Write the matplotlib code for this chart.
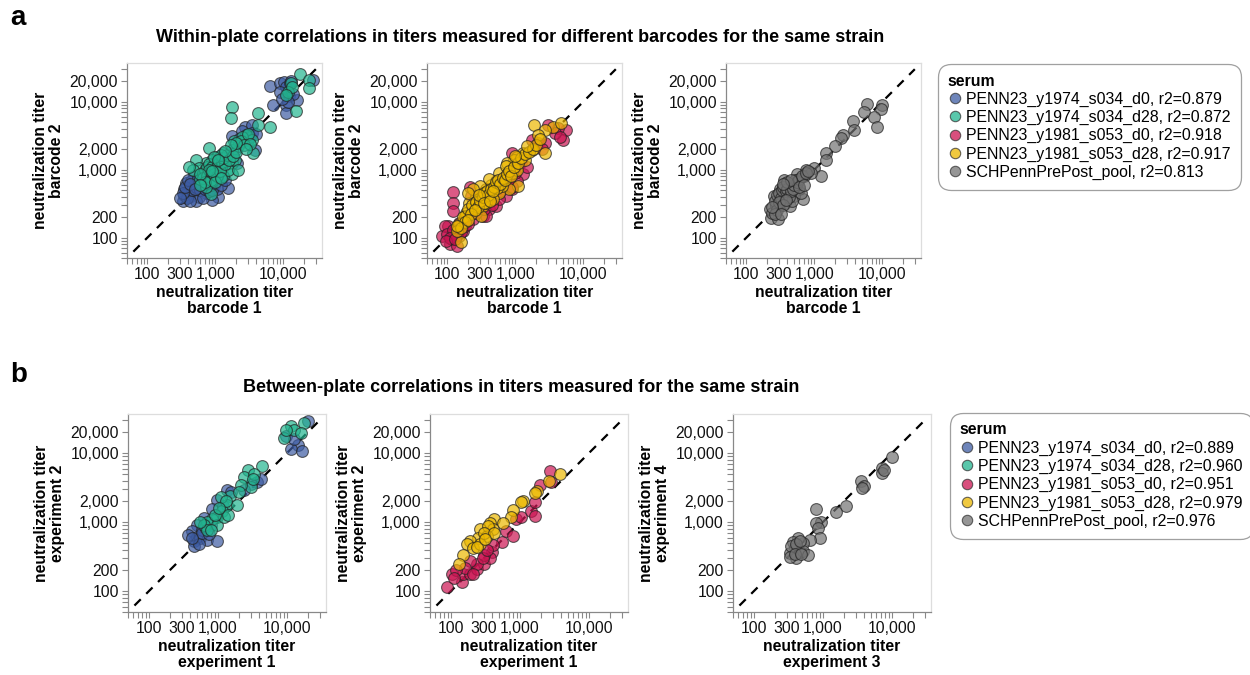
import matplotlib
matplotlib.use("Agg")
import matplotlib.pyplot as plt
from matplotlib.lines import Line2D
from matplotlib.ticker import FixedLocator, FixedFormatter, NullLocator

plt.rcParams['font.family'] = ['Liberation Sans', 'DejaVu Sans']

# ---------------------------------------------------------------------------
# data: (titer barcode/experiment A, titer barcode/experiment B) per serum
# ---------------------------------------------------------------------------
sera = ['PENN23_y1974_s034_d0', 'PENN23_y1974_s034_d28', 'PENN23_y1981_s053_d0',
        'PENN23_y1981_s053_d28', 'SCHPennPrePost_pool']
colors = ['#3d5ca3', '#22b58f', '#cc1452', '#ecb800', '#737373']
r2_within = [0.879, 0.872, 0.918, 0.917, 0.813]
r2_between = [0.889, 0.960, 0.951, 0.979, 0.976]

# panel a1 (barcode 1, barcode 2)
a_y1974_d0 = [(6400, 17000), (8900, 18500), (10300, 19500), (11000, 16500), (12500, 18500),
              (12000, 12000), (10800, 9000), (11100, 6700), (16000, 10500), (27000, 20500),
              (7000, 9000), (14000, 13000), (2700, 4200), (3400, 4500), (3500, 3400), (1750, 3100),
              (2300, 2450), (3000, 2750), (3800, 1950), (1950, 1950), (1550, 1400), (1300, 1250),
              (1100, 1100), (2050, 1250), (1550, 540), (1100, 400), (900, 360), (720, 450), (580, 400),
              (460, 570), (410, 400), (370, 640), (330, 340), (390, 480), (510, 340), (490, 800),
              (640, 800), (800, 640), (950, 570), (580, 670), (440, 670), (350, 510), (720, 1000),
              (1050, 510), (350, 420), (380, 380), (420, 350), (450, 500), (520, 560), (600, 500),
              (650, 380), (700, 520), (800, 480), (900, 500), (330, 450), (360, 560), (400, 700),
              (550, 750), (620, 620), (420, 620), (500, 520), (750, 650), (850, 600), (300, 380),
              (1200, 600), (1400, 700), (2500, 3700), (3200, 3000), (4000, 3300), (2200, 2800),
              (9000, 14000), (13000, 20000), (11500, 10000), (9500, 11000)]
a_y1974_d28 = [(17400, 25500), (24000, 21000), (24000, 15700), (15500, 7200), (12800, 18500),
               (11700, 14000), (13500, 16500), (11100, 12500), (1740, 8400), (1700, 5800), (4200, 6700),
               (4200, 4550), (6300, 4300), (2850, 3250), (3400, 2750), (2450, 3000), (1850, 2600),
               (2150, 2200), (3550, 1750), (1750, 1950), (800, 2100), (1300, 1750), (1050, 1550),
               (900, 1400), (720, 1250), (510, 1400), (570, 1070), (720, 900), (950, 1200), (1100, 1330),
               (1400, 1480), (1750, 1250), (1950, 1400), (1750, 850), (1050, 900), (800, 850), (600, 720),
               (900, 680), (1300, 800), (850, 430), (720, 560), (460, 1000), (410, 1100), (1550, 1000),
               (2150, 1000), (650, 900), (700, 1000), (750, 1100), (800, 1200), (850, 1000), (900, 1100),
               (1000, 1000), (1100, 1200), (1200, 1100), (650, 750), (750, 800), (850, 700), (950, 850),
               (1050, 800), (1150, 950), (1250, 1300), (1400, 1200), (1300, 1500), (1500, 1650),
               (1200, 1650), (950, 1550), (800, 1000), (700, 650), (600, 850), (1000, 650), (1200, 750),
               (1600, 1400), (1800, 1600), (2000, 1800), (2400, 2600), (2600, 2300), (2000, 2500),
               (3000, 3300), (3200, 2400), (2800, 2000), (1700, 2300), (1400, 1900), (1100, 1400),
               (900, 950), (600, 600)]

# panel a2
a_y1981_d0 = [(83, 105), (110, 80), (116, 95), (103, 148), (93, 148), (122, 465), (122, 318), (122, 245),
              (212, 560), (225, 410), (150, 105), (130, 130), (180, 185), (330, 210), (410, 260), (520, 290),
              (720, 410), (900, 510), (950, 1120), (1300, 850), (1200, 1280), (900, 1750), (1750, 2750),
              (2150, 2450), (5500, 3850), (5000, 2750), (4200, 4050), (3800, 3450), (2700, 2450), (300, 290),
              (240, 185), (370, 210), (580, 365), (150, 165), (98, 112), (136, 75), (170, 125), (260, 410),
              (640, 640), (1050, 670), (460, 510), (120, 130), (140, 110), (160, 120), (180, 150),
              (200, 160), (110, 100), (95, 90), (130, 95), (220, 230), (260, 230), (350, 260), (450, 300),
              (600, 480), (800, 700), (1000, 900), (1500, 1100), (2500, 2000), (4500, 3000), (3000, 4500),
              (900, 560)]
a_y1981_d28 = [(1850, 4550), (3550, 4300), (4700, 4900), (2700, 3850), (2150, 3250), (2700, 1750),
               (1750, 1950), (1300, 1750), (1050, 1550), (950, 1400), (760, 1250), (570, 900), (720, 800),
               (510, 670), (440, 600), (370, 510), (330, 450), (300, 385), (250, 360), (210, 325),
               (190, 230), (150, 160), (160, 85), (136, 125), (1100, 570), (800, 510), (580, 450),
               (410, 410), (330, 290), (260, 260), (370, 325), (460, 365), (640, 570), (900, 900),
               (720, 1120), (410, 720), (300, 570), (240, 510), (200, 450), (180, 210), (310, 210),
               (540, 540), (1050, 1000), (1400, 1400), (170, 200), (200, 260), (230, 300), (260, 330),
               (280, 280), (300, 350), (330, 400), (350, 450), (380, 480), (400, 420), (430, 520),
               (480, 560), (520, 650), (560, 700), (600, 620), (650, 750), (700, 700), (750, 850),
               (800, 950), (850, 800), (950, 1100), (1100, 1250), (1200, 1500), (1400, 1700), (1600, 1800),
               (1800, 2000), (2000, 2300), (2300, 2800), (1500, 2200), (1000, 1600), (220, 220), (250, 250),
               (290, 420), (340, 320), (420, 350), (460, 480), (180, 170), (160, 140), (140, 150), (200, 180)]

# panel a3
a_pool = [(5900, 9300), (9900, 8900), (9400, 7700), (5300, 7100), (7500, 6000), (8300, 4200), (3700, 5100),
          (3800, 3800), (2600, 3250), (2500, 2900), (2000, 2250), (1500, 1750), (1500, 1400), (1000, 1050),
          (740, 1000), (700, 800), (560, 850), (1250, 810), (900, 900), (670, 365), (590, 510), (460, 570),
          (370, 640), (420, 455), (360, 390), (300, 290), (230, 195), (290, 185), (250, 410), (225, 260),
          (240, 230), (310, 350), (370, 320), (500, 405), (640, 455), (440, 290), (270, 305), (460, 350),
          (540, 600), (420, 600), (310, 510), (360, 710), (260, 350), (280, 420), (300, 450), (320, 380),
          (330, 500), (350, 550), (380, 480), (400, 520), (420, 400), (450, 480), (480, 520), (500, 600),
          (520, 700), (550, 650), (600, 720), (650, 800), (750, 900), (800, 950), (280, 250), (300, 330),
          (340, 300), (380, 360), (260, 220), (240, 280), (400, 650), (450, 700), (350, 620), (600, 560),
          (700, 600), (320, 220)]

# panel b1 (experiment 1, experiment 2)
b_y1974_d0 = [(20000, 29600), (9660, 18000), (14300, 13200), (11400, 11400), (16700, 10600), (12800, 16200),
              (3700, 3800), (4200, 4300), (1370, 2950), (1530, 2750), (980, 2100), (830, 1580), (630, 1150),
              (500, 920), (430, 740), (450, 530), (500, 620), (560, 590), (700, 560), (980, 530), (450, 450),
              (590, 780), (800, 920), (370, 660), (530, 480), (3000, 3600), (2400, 2950), (600, 700),
              (650, 850), (420, 600), (1200, 1700), (750, 680)]
b_y1974_d28 = [(17600, 27000), (11400, 25000), (12800, 22000), (15900, 19500), (9100, 16800),
               (9700, 21500), (4400, 6600), (2700, 5800), (2400, 4500), (3400, 5000), (3000, 3200),
               (2150, 3500), (1500, 2400), (1350, 1800), (1150, 1450), (980, 1200), (830, 1120), (700, 1000),
               (630, 900), (700, 780), (560, 1000), (980, 920), (1230, 1200), (1400, 1290), (1900, 1800),
               (900, 1260), (800, 780), (1100, 2300), (1300, 2000), (1050, 1600), (2000, 2700), (3200, 4200)]

# panel b2
b_y1981_d0 = [(88, 115), (103, 180), (144, 135), (152, 180), (190, 175), (237, 210), (300, 250), (390, 370),
              (550, 520), (640, 740), (890, 1130), (1050, 1190), (1460, 1450), (1650, 1950), (1940, 3500),
              (2700, 5600), (2850, 3800), (1650, 1250), (790, 630), (370, 300), (300, 340), (240, 245),
              (190, 275), (160, 220), (120, 200), (110, 155), (210, 180), (290, 300), (410, 470), (330, 390)]
b_y1981_d28 = [(3800, 4950), (2650, 4000), (1750, 2850), (1650, 2650), (1120, 2050), (1050, 1950),
               (790, 1480), (750, 1180), (430, 1100), (370, 960), (410, 800), (265, 800), (330, 640),
               (250, 600), (190, 540), (170, 480), (150, 335), (130, 250), (210, 430), (265, 480),
               (350, 870), (300, 690), (430, 690), (240, 440), (310, 570), (570, 960)]

# panel b3 (experiment 3, experiment 4)
b_pool = [(10000, 8700), (7300, 6200), (7300, 5100), (7600, 5700), (3600, 4000), (3900, 3300), (3700, 3100),
          (2150, 1740), (1550, 1400), (800, 1530), (950, 1000), (800, 970), (850, 830), (900, 600), (650, 560),
          (520, 500), (440, 600), (370, 520), (390, 420), (330, 360), (410, 300), (470, 370), (520, 380),
          (350, 450), (410, 480), (470, 530), (620, 340), (330, 310), (390, 350), (490, 350)]

panels_a = [[(0, a_y1974_d0), (1, a_y1974_d28)], [(2, a_y1981_d0), (3, a_y1981_d28)], [(4, a_pool)]]
panels_b = [[(0, b_y1974_d0), (1, b_y1974_d28)], [(2, b_y1981_d0), (3, b_y1981_d28)], [(4, b_pool)]]
xlabels_a = ['neutralization titer\nbarcode 1'] * 3
ylabels_a = ['neutralization titer\nbarcode 2'] * 3
xlabels_b = ['neutralization titer\nexperiment 1', 'neutralization titer\nexperiment 1',
             'neutralization titer\nexperiment 3']
ylabels_b = ['neutralization titer\nexperiment 2', 'neutralization titer\nexperiment 2',
             'neutralization titer\nexperiment 4']

xtick_labels = [100, 300, 1000, 10000]
ytick_labels = [100, 200, 1000, 2000, 10000, 20000]
lims = (50, 37000)
all_ticks = [m * 10 ** k for k in range(1, 5) for m in range(1, 10) if 50 <= m * 10 ** k <= 37000]

W, H = 1250, 675
fig = plt.figure(figsize=(12.5, 6.75), dpi=100)


def add_ax(left, top, w, h):
    return fig.add_axes([left / W, 1 - (top + h) / H, w / W, h / H])


def style_ax(ax, xlab, ylab):
    ax.set_xscale('log')
    ax.set_yscale('log')
    ax.set_xlim(*lims)
    ax.set_ylim(*lims)
    ax.plot([62, 30000], [62, 30000], color='black', lw=1.6, ls=(0, (4, 3.5)), zorder=1)
    for axis, labelled in ((ax.xaxis, xtick_labels), (ax.yaxis, ytick_labels)):
        axis.set_major_locator(FixedLocator(all_ticks))
        axis.set_major_formatter(FixedFormatter([f'{t:,}' if t in labelled else '' for t in all_ticks]))
        axis.set_minor_locator(NullLocator())
    ax.tick_params(length=4, width=0.8, color='#888888', labelsize=11.3, labelcolor='#111111', pad=2.5)
    for s in ('left', 'bottom'):
        ax.spines[s].set_color('#888888')
        ax.spines[s].set_linewidth(0.9)
    for s in ('top', 'right'):
        ax.spines[s].set_color('#dddddd')
        ax.spines[s].set_linewidth(0.9)
    ax.set_xlabel(xlab, fontsize=11.3, fontweight='bold', linespacing=1.1, labelpad=2)
    ax.set_ylabel(ylab, fontsize=11.3, fontweight='bold', linespacing=1.1, labelpad=4)


def draw_row(panels, boxes, xlabs, ylabs):
    for (left, top, w, h), series, xl, yl in zip(boxes, panels, xlabs, ylabs):
        ax = add_ax(left, top, w, h)
        for i, pts in series:
            xs = [p[0] for p in pts]
            ys = [p[1] for p in pts]
            ax.scatter(xs, ys, s=72, color=colors[i], alpha=0.7, edgecolors='#222222',
                       linewidths=0.8, zorder=2)
        style_ax(ax, xl, yl)


def add_legend(r2s, left, top):
    handles = [Line2D([], [], ls='', marker='o', ms=7.5, markerfacecolor=c, alpha=0.75,
                      markeredgecolor='#333333', markeredgewidth=0.8) for c in colors]
    labels = [f'{s}, r2={r:.3f}' for s, r in zip(sera, r2s)]
    leg = fig.legend(handles, labels, loc='upper left', bbox_to_anchor=(left / W, 1 - top / H),
                     title='serum', fontsize=11.4, title_fontproperties={'weight': 'bold', 'size': 11.4},
                     alignment='left', frameon=True, fancybox=True, labelspacing=0.2,
                     handletextpad=0.2, handlelength=1.0, borderpad=0.6, borderaxespad=0)
    fr = leg.get_frame()
    fr.set_edgecolor('#888888')
    fr.set_linewidth(0.9)
    fr.set_boxstyle('round,pad=0,rounding_size=0.8')


boxes_a = [(127, 63, 195, 195), (427, 63, 195, 195), (726, 63, 195, 195)]
boxes_b = [(128, 414, 198, 198), (430, 414, 198, 198), (733, 414, 198, 198)]
draw_row(panels_a, boxes_a, xlabels_a, ylabels_a)
draw_row(panels_b, boxes_b, xlabels_b, ylabels_b)
add_legend(r2_within, 938, 64)
add_legend(r2_between, 950, 413)

fig.text(10 / W, 1 - 18 / H, 'a', fontsize=20, fontweight='bold', va='center')
fig.text(10 / W, 1 - 375 / H, 'b', fontsize=20, fontweight='bold', va='center')
fig.text(520 / W, 1 - 38 / H,
         'Within-plate correlations in titers measured for different barcodes for the same strain',
         fontsize=13, fontweight='bold', ha='center', va='center')
fig.text(521 / W, 1 - 387 / H, 'Between-plate correlations in titers measured for the same strain',
         fontsize=13, fontweight='bold', ha='center', va='center')

fig.savefig('out.png', dpi=100)
